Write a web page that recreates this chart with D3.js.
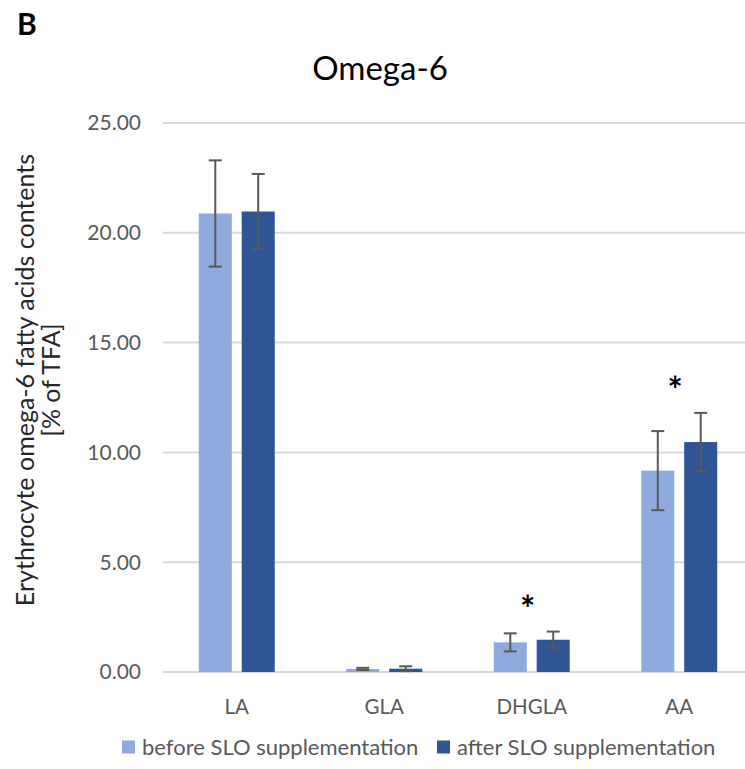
<!DOCTYPE html>
<html>
<head>
<meta charset="utf-8">
<script src="https://cdn.jsdelivr.net/npm/d3@7"></script>
<style>
  body { margin: 0; background: #fff; }
  text { font-family: Lato, "Open Sans", sans-serif; }
</style>
</head>
<body>
<script>
const w = 745;
const h = 769;

const categories = ["LA", "GLA", "DHGLA", "AA"];
const groups = ["before SLO supplementation", "after SLO supplementation"];
const beforeValues = [20.88, 0.14, 1.35, 9.17];
const beforeErrors = [2.42, 0.05, 0.41, 1.8];
const afterValues = [20.97, 0.15, 1.47, 10.47];
const afterErrors = [1.71, 0.11, 0.37, 1.33];
const significant = [false, false, true, true];
const yTicks = [0, 5, 10, 15, 20, 25];
const colors = ["#8faadc", "#2f5597"];

const svg = d3
  .select("body")
  .append("svg")
  .attr("width", w)
  .attr("height", h);

const x0 = d3
  .scaleBand()
  .domain(categories)
  .range([163, 753])
  .paddingInner(0.485)
  .paddingOuter(0.2425);
const x1 = d3
  .scaleBand()
  .domain(groups)
  .range([0, x0.bandwidth()])
  .paddingInner(0.23);
const y = d3.scaleLinear().domain([0, 25]).range([672, 123]);

// gridlines
svg
  .append("g")
  .selectAll("line")
  .data(yTicks)
  .enter()
  .append("line")
  .attr("x1", 163)
  .attr("x2", w)
  .attr("y1", (d) => y(d))
  .attr("y2", (d) => y(d))
  .attr("stroke", "#d9d9d9")
  .attr("stroke-width", 2);

// y tick labels
svg
  .append("g")
  .selectAll("text")
  .data(yTicks)
  .enter()
  .append("text")
  .attr("x", 141)
  .attr("y", (d) => y(d))
  .attr("dy", "0.35em")
  .attr("text-anchor", "end")
  .attr("fill", "#595959")
  .style("font-size", "21px")
  .text((d) => d3.format(".2f")(d));

const rows = categories.map((c, i) => ({
  cat: c,
  bars: [
    { g: groups[0], v: beforeValues[i], e: beforeErrors[i], c: colors[0] },
    { g: groups[1], v: afterValues[i], e: afterErrors[i], c: colors[1] },
  ],
  sig: significant[i],
}));

const cat = svg
  .selectAll(".cat")
  .data(rows)
  .enter()
  .append("g")
  .attr("class", "cat")
  .attr("transform", (d) => `translate(${x0(d.cat)},0)`);

cat
  .selectAll("rect")
  .data((d) => d.bars)
  .enter()
  .append("rect")
  .attr("x", (d) => x1(d.g))
  .attr("width", x1.bandwidth())
  .attr("y", (d) => y(d.v))
  .attr("height", (d) => y(0) - y(d.v))
  .attr("fill", (d) => d.c);

// error bars
const err = cat
  .selectAll(".err")
  .data((d) => d.bars)
  .enter()
  .append("g")
  .attr("class", "err")
  .attr("stroke", "#595959")
  .attr("stroke-width", 2);

err
  .append("line")
  .attr("x1", (d) => x1(d.g) + x1.bandwidth() / 2)
  .attr("x2", (d) => x1(d.g) + x1.bandwidth() / 2)
  .attr("y1", (d) => y(d.v + d.e))
  .attr("y2", (d) => y(Math.max(0, d.v - d.e)));

err
  .selectAll(".cap")
  .data((d) => [
    { g: d.g, t: d.v + d.e },
    { g: d.g, t: Math.max(0, d.v - d.e) },
  ])
  .enter()
  .append("line")
  .attr("x1", (d) => x1(d.g) + x1.bandwidth() / 2 - 6.5)
  .attr("x2", (d) => x1(d.g) + x1.bandwidth() / 2 + 6.5)
  .attr("y1", (d) => y(d.t))
  .attr("y2", (d) => y(d.t));

// significance stars
cat
  .filter((d) => d.sig)
  .append("text")
  .attr("x", x0.bandwidth() / 2 - 4)
  .attr("y", (d) => y(d3.max(d.bars, (b) => b.v + b.e)) - 10)
  .attr("text-anchor", "middle")
  .attr("fill", "#000")
  .style("font-size", "36px")
  .style("font-weight", "bold")
  .text("*");

// x labels
svg
  .append("g")
  .selectAll("text")
  .data(categories)
  .enter()
  .append("text")
  .attr("x", (d) => x0(d) + x0.bandwidth() / 2)
  .attr("y", 714)
  .attr("text-anchor", "middle")
  .attr("fill", "#595959")
  .style("font-size", "20.5px")
  .text((d) => d);

// title
svg
  .append("text")
  .attr("x", 380)
  .attr("y", 80)
  .attr("text-anchor", "middle")
  .attr("fill", "#000")
  .style("font-size", "33px")
  .text("Omega-6");

svg
  .append("text")
  .attr("x", 17)
  .attr("y", 35)
  .attr("fill", "#000")
  .style("font-size", "30px")
  .style("font-weight", "bold")
  .text("B");

// y axis title
const yTitle = svg
  .append("text")
  .attr("transform", `translate(34,380) rotate(-90)`)
  .attr("text-anchor", "middle")
  .attr("fill", "#262626")
  .style("font-size", "25px");
yTitle.append("tspan").attr("x", 0).attr("dy", 0).text("Erythrocyte omega-6 fatty acids contents");
yTitle.append("tspan").attr("x", 0).attr("dy", 26).text("[% of TFA]");

// legend
const legend = svg
  .append("g")
  .selectAll("g")
  .data(groups)
  .enter()
  .append("g")
  .attr("transform", (d, i) => `translate(${i === 0 ? 122 : 437},747)`);

legend
  .append("rect")
  .attr("width", 13)
  .attr("height", 13)
  .attr("y", -6.5)
  .attr("fill", (d, i) => colors[i]);

legend
  .append("text")
  .attr("x", 20)
  .attr("dy", "0.35em")
  .attr("fill", "#595959")
  .style("font-size", "22px")
  .text((d) => d);
</script>
</body>
</html>
